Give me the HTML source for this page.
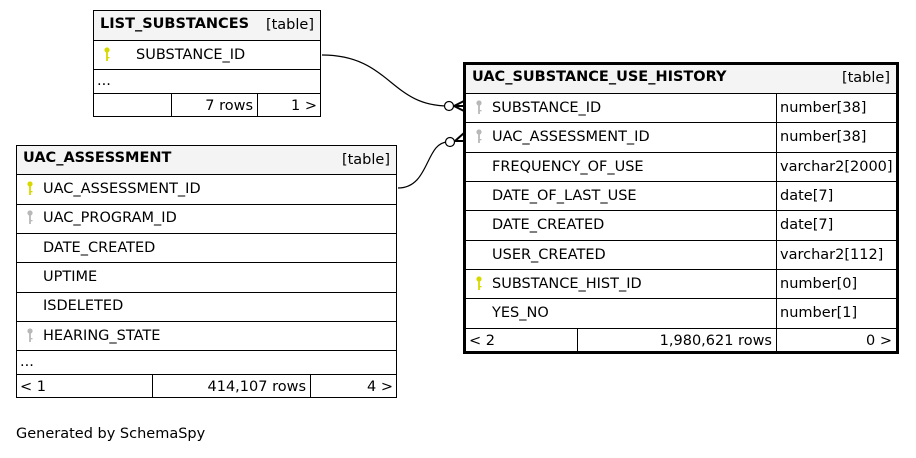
<!DOCTYPE html>
<html><head><meta charset="utf-8"><style>
html,body{margin:0;padding:0;background:#fff;}
svg text{font-family:"DejaVu Sans","Liberation Sans",sans-serif;font-size:14.5px;fill:#000;}
.b{font-weight:bold;}
</style></head><body>
<svg width="916" height="453" viewBox="0 0 916 453" xmlns="http://www.w3.org/2000/svg">
<defs>
<g id="pk"><circle cx="0" cy="-3" r="2.6" fill="#d8d800"/><rect x="-0.9" y="-1" width="1.8" height="9" fill="#d8d800"/><rect x="0.5" y="4" width="2" height="1.3" fill="#d8d800"/></g>
<g id="fk"><circle cx="0" cy="-3" r="2.6" fill="#b8b8b8"/><rect x="-0.9" y="-1" width="1.8" height="9" fill="#b8b8b8"/><rect x="0.5" y="4" width="2" height="1.3" fill="#b8b8b8"/></g>
</defs>
<path d="M322,55 C390,55 390,106 448,106" fill="none" stroke="#000" stroke-width="1.2"/>
<path d="M398,188 C430,188 425,142 448,142" fill="none" stroke="#000" stroke-width="1.2"/>
<circle cx="449" cy="106" r="4.5" fill="#fff" stroke="#000" stroke-width="1.2"/>
<circle cx="450" cy="142" r="4.5" fill="#fff" stroke="#000" stroke-width="1.2"/>
<path d="M454,106 L464,101 M454,106 L464,111 M454,106 L464,106" stroke="#000" stroke-width="2"/>
<path d="M455,141 L464,133 M455,141 L464,141" stroke="#000" stroke-width="2"/>

<rect x="93.5" y="10.5" width="227" height="106" fill="#fff" stroke="#000"/>
<rect x="94" y="11" width="226" height="29" fill="#f4f4f4"/>
<line x1="93" y1="40.5" x2="321" y2="40.5" stroke="#000"/>
<line x1="93" y1="69.5" x2="321" y2="69.5" stroke="#000"/>
<line x1="93" y1="93.5" x2="321" y2="93.5" stroke="#000"/>
<line x1="171.5" y1="93" x2="171.5" y2="117" stroke="#000"/>
<line x1="257.5" y1="93" x2="257.5" y2="117" stroke="#000"/>
<text x="100" y="28" class="b">LIST_SUBSTANCES</text>
<text x="314" y="29" text-anchor="end">[table]</text>
<use href="#pk" x="107" y="53"/>
<text x="136" y="59">SUBSTANCE_ID</text>
<text x="97" y="85">...</text>
<text x="253" y="110" text-anchor="end">7 rows</text>
<text x="317" y="110" text-anchor="end">1 &gt;</text>

<rect x="16.5" y="145.5" width="380" height="252" fill="#fff" stroke="#000"/>
<rect x="17" y="146" width="379" height="28" fill="#f4f4f4"/>
<g stroke="#000">
<line x1="16" y1="174.5" x2="397" y2="174.5"/>
<line x1="16" y1="204.5" x2="397" y2="204.5"/>
<line x1="16" y1="233.5" x2="397" y2="233.5"/>
<line x1="16" y1="262.5" x2="397" y2="262.5"/>
<line x1="16" y1="292.5" x2="397" y2="292.5"/>
<line x1="16" y1="321.5" x2="397" y2="321.5"/>
<line x1="16" y1="350.5" x2="397" y2="350.5"/>
<line x1="16" y1="374.5" x2="397" y2="374.5"/>
<line x1="152.5" y1="374" x2="152.5" y2="398"/>
<line x1="310.5" y1="374" x2="310.5" y2="398"/>
</g>
<text x="23" y="162" class="b">UAC_ASSESSMENT</text>
<text x="390" y="164" text-anchor="end">[table]</text>
<use href="#pk" x="30" y="187"/><text x="43" y="193">UAC_ASSESSMENT_ID</text>
<use href="#fk" x="30" y="216"/><text x="43" y="222">UAC_PROGRAM_ID</text>
<text x="43" y="252">DATE_CREATED</text>
<text x="43" y="281">UPTIME</text>
<text x="43" y="310">ISDELETED</text>
<use href="#fk" x="30" y="334"/><text x="43" y="340">HEARING_STATE</text>
<text x="20" y="366">...</text>
<text x="20" y="391">&lt; 1</text>
<text x="306" y="391" text-anchor="end">414,107 rows</text>
<text x="393" y="391" text-anchor="end">4 &gt;</text>

<rect x="464.5" y="63.5" width="433" height="289" fill="#fff"/>
<rect x="465" y="64" width="432" height="29" fill="#f4f4f4"/>
<g stroke="#000">
<line x1="464" y1="93.5" x2="898" y2="93.5"/>
<line x1="464" y1="122.5" x2="898" y2="122.5"/>
<line x1="464" y1="152.5" x2="898" y2="152.5"/>
<line x1="464" y1="181.5" x2="898" y2="181.5"/>
<line x1="464" y1="210.5" x2="898" y2="210.5"/>
<line x1="464" y1="240.5" x2="898" y2="240.5"/>
<line x1="464" y1="269.5" x2="898" y2="269.5"/>
<line x1="464" y1="298.5" x2="898" y2="298.5"/>
<line x1="464" y1="328.5" x2="898" y2="328.5"/>
<line x1="776.5" y1="93" x2="776.5" y2="352"/>
<line x1="577.5" y1="328" x2="577.5" y2="352"/>
</g>
<rect x="464.5" y="63.5" width="433" height="289" fill="none" stroke="#000" stroke-width="3"/>
<text x="472" y="81" class="b">UAC_SUBSTANCE_USE_HISTORY</text>
<text x="890" y="82" text-anchor="end">[table]</text>
<use href="#fk" x="479" y="106"/><text x="492" y="112">SUBSTANCE_ID</text><text x="780" y="112">number[38]</text>
<use href="#fk" x="479" y="135"/><text x="492" y="141">UAC_ASSESSMENT_ID</text><text x="780" y="141">number[38]</text>
<text x="492" y="171">FREQUENCY_OF_USE</text><text x="780" y="171">varchar2[2000]</text>
<text x="492" y="200">DATE_OF_LAST_USE</text><text x="780" y="200">date[7]</text>
<text x="492" y="229">DATE_CREATED</text><text x="780" y="229">date[7]</text>
<text x="492" y="259">USER_CREATED</text><text x="780" y="259">varchar2[112]</text>
<use href="#pk" x="479" y="282"/><text x="492" y="288">SUBSTANCE_HIST_ID</text><text x="780" y="288">number[0]</text>
<text x="492" y="317">YES_NO</text><text x="780" y="317">number[1]</text>
<text x="469" y="345">&lt; 2</text>
<text x="772" y="345" text-anchor="end">1,980,621 rows</text>
<text x="892" y="345" text-anchor="end">0 &gt;</text>

<text x="16" y="438">Generated by SchemaSpy</text>
</svg>
</body></html>
